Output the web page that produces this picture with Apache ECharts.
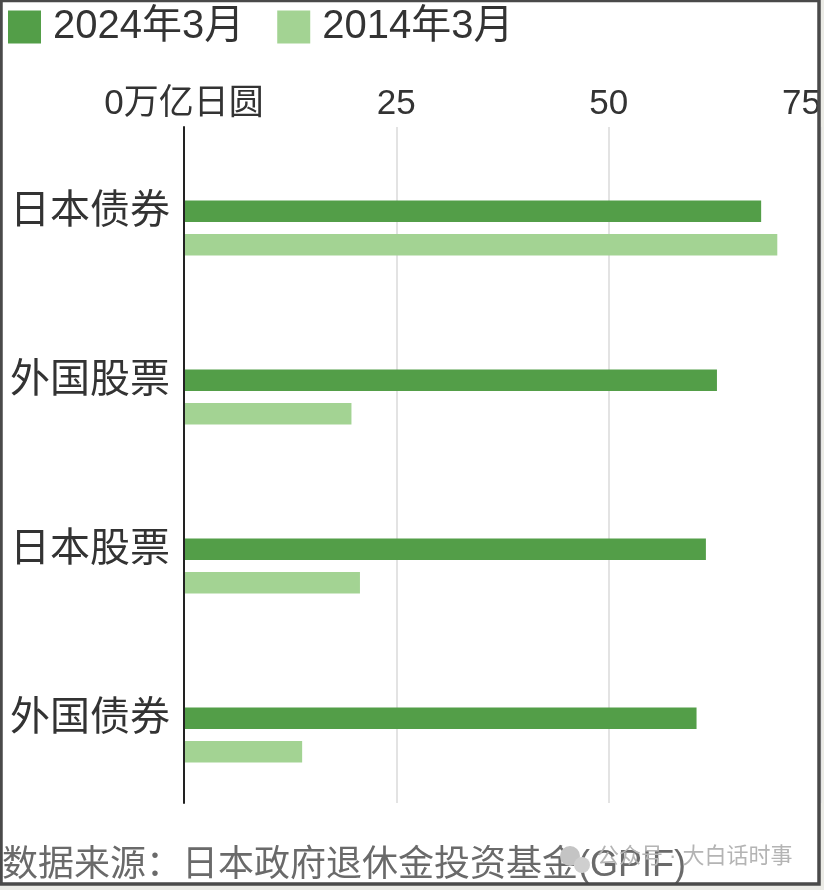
<!DOCTYPE html>
<html>
<head>
<meta charset="utf-8">
<script src="https://cdn.jsdelivr.net/npm/echarts@6/dist/echarts.min.js"></script>
<style>
html,body{margin:0;padding:0;background:#ebebe6;}
#chart{width:824px;height:890px;}
</style>
</head>
<body>
<div id="chart"></div>
<script>
const categories = ['日本债券', '外国股票', '日本股票', '外国债券'];
const seriesNames = ['2024年3月', '2014年3月'];
const values2024 = [67.9, 62.7, 61.4, 60.3];
const values2014 = [69.8, 19.7, 20.7, 13.9];
const tickLabels = ['0万亿日圆', '25', '50', '75'];
const sourceText = '数据来源：日本政府退休金投资基金(GPIF)';
const watermarkText = '公众号 · 大白话时事';

const FONT = '"Liberation Sans", "Noto Sans CJK SC", sans-serif';
const chart = echarts.init(document.getElementById('chart'));

const option = {
  backgroundColor: '#ebebe6',
  animation: false,
  textStyle: { fontFamily: FONT },
  legend: {
    left: 3, top: 2,
    icon: 'rect',
    itemWidth: 33, itemHeight: 33,
    itemGap: 33,
    data: seriesNames,
    textStyle: { fontSize: 40, color: '#333', fontFamily: FONT, padding: [0, 0, 0, 7] }
  },
  grid: [
    { left: 184, top: 127, width: 637.5, height: 676 },
    { left: 184, top: 143.5, width: 637.5, height: 676 }
  ],
  xAxis: [
    {
      gridIndex: 0, type: 'value', position: 'top', min: 0, max: 75, interval: 25,
      axisLine: { show: false }, axisTick: { show: false },
      splitLine: { show: true, lineStyle: { color: '#e3e3e3', width: 2 } },
      axisLabel: {
        fontSize: 35, color: '#333', margin: 5, fontFamily: FONT,
        alignMaxLabel: 'right',
        formatter: function (v) { return tickLabels[Math.round(v / 25)]; }
      }
    },
    {
      gridIndex: 1, type: 'value', min: 0, max: 75, show: false
    }
  ],
  yAxis: [
    {
      gridIndex: 0, type: 'category', data: categories, inverse: true, z: 5,
      axisLine: { show: true, lineStyle: { color: '#222', width: 2 } },
      axisTick: { show: false },
      axisLabel: { fontSize: 40, color: '#333', margin: 14, fontFamily: FONT }
    },
    {
      gridIndex: 1, type: 'category', data: categories, inverse: true, show: false
    }
  ],
  series: [
    {
      name: seriesNames[0], type: 'bar', xAxisIndex: 1, yAxisIndex: 1,
      data: values2024, barWidth: 21.5, barGap: '56%',
      itemStyle: { color: '#539e48' }
    },
    {
      name: seriesNames[1], type: 'bar', xAxisIndex: 1, yAxisIndex: 1,
      data: values2014, barWidth: 21.5, barGap: '56%',
      itemStyle: { color: '#a3d393' }
    }
  ],
  graphic: [
    { type: 'rect', silent: true, z: -10, shape: { x: 1, y: 0.5, width: 818, height: 883.5 }, style: { fill: '#ffffff' } },
    { type: 'text', silent: true, z: 50, left: 2, top: 848,
      style: { text: sourceText, font: '36px ' + FONT, fill: '#6a6a6a' } },
    { type: 'circle', silent: true, z: 60, shape: { cx: 570, cy: 856, r: 10 }, style: { fill: '#c4c4c4' } },
    { type: 'circle', silent: true, z: 61, shape: { cx: 582, cy: 865, r: 8 }, style: { fill: '#cfcfcf' } },
    { type: 'text', silent: true, z: 60, left: 597, top: 846,
      style: { text: watermarkText, font: '22px ' + FONT, fill: '#b4b4b4' } },
    { type: 'rect', silent: true, z: 100, shape: { x: 1, y: 0.5, width: 818, height: 883.5 },
      style: { fill: null, stroke: '#4a4a4a', lineWidth: 3.5 } }
  ]
};
chart.setOption(option);
</script>
</body>
</html>
